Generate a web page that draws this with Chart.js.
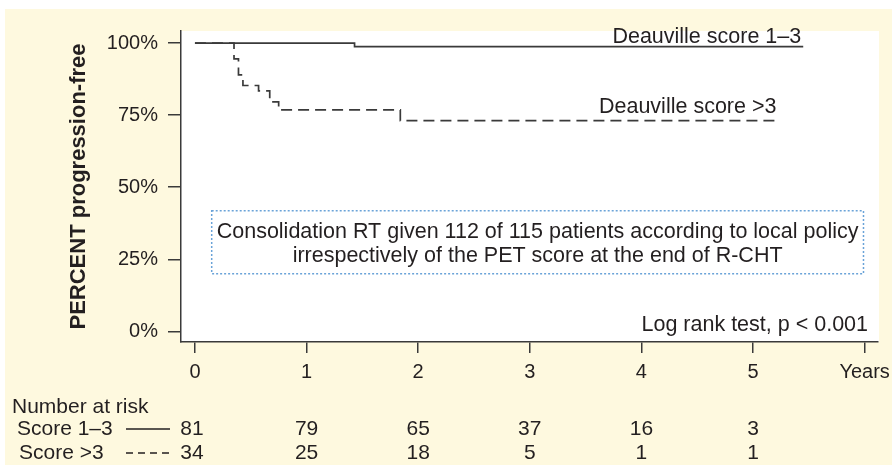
<!DOCTYPE html>
<html><head><meta charset="utf-8">
<script src="https://cdn.jsdelivr.net/npm/chart.js@4.4.1/dist/chart.umd.min.js"></script>
<style>
html,body{margin:0;padding:0;background:#fff;}
canvas{display:block;}
</style></head><body>
<canvas id="c" width="892" height="471"></canvas>
<script>
// ---- data ----
const xTickValues = [0, 1, 2, 3, 4, 5, 6];
const xTickLabels = ['0', '1', '2', '3', '4', '5', 'Years'];
const yTickValues = [0, 25, 50, 75, 100];
const score13Times = [0, 1.43, 5.45];
const score13Surv = [100, 98.8, 98.8];
const score3Times = [0, 0.35, 0.39, 0.43, 0.57, 0.67, 0.75, 1.84, 5.21];
const score3Surv = [100, 94.5, 89.0, 85.3, 83.4, 79.6, 76.8, 73.1, 73.1];
const riskYears = [0, 1, 2, 3, 4, 5];
const riskScore13 = [81, 79, 65, 37, 16, 3];
const riskScore3 = [34, 25, 18, 5, 1, 1];
const seriesNames = ['Deauville score 1\u20133', 'Deauville score >3'];
const riskRowNames = ['Score 1\u20133', 'Score >3'];
const riskTitle = 'Number at risk';
const yTitle = 'PERCENT progression-free';
const statText = 'Log rank test, p < 0.001';
const noteLines = ['Consolidation RT given 112 of 115 patients according to local policy',
                   'irrespectively of the PET score at the end of R-CHT'];

const FONT = "'Liberation Sans', Arial, Helvetica, sans-serif";
const INK = '#231f20';
const LINE = '#3a3a3a';
const CREAM = '#fef9df';

function pts(xs, ys) { return xs.map((x, i) => ({x: x, y: ys[i]})); }

const decor = {
  id: 'decor',
  beforeDraw(chart) {
    const {ctx, chartArea: a} = chart;
    ctx.save();
    ctx.fillStyle = '#ffffff';
    ctx.fillRect(0, 0, chart.width, chart.height);
    ctx.fillStyle = CREAM;
    ctx.fillRect(5, 9, chart.width - 5, 456);
    ctx.fillStyle = '#ffffff';
    ctx.fillRect(a.left, a.top, a.right - a.left + 1, a.bottom - a.top);
    ctx.restore();
  },
  afterDatasetsDraw(chart) {
    const {ctx, chartArea: a} = chart;
    const xs = chart.scales.x, ys = chart.scales.y;
    ctx.save();
    ctx.fillStyle = INK;
    ctx.font = '21.5px ' + FONT;
    // series labels
    ctx.textAlign = 'right';
    ctx.textBaseline = 'alphabetic';
    const n1 = score13Times.length - 1, n2 = score3Times.length - 1;
    ctx.fillText(seriesNames[0], xs.getPixelForValue(score13Times[n1]) - 2, ys.getPixelForValue(score13Surv[n1]) - 4);
    ctx.fillText(seriesNames[1], xs.getPixelForValue(score3Times[n2]), ys.getPixelForValue(score3Surv[n2]) - 8);
    // log rank
    ctx.fillText(statText, a.right - 10, a.bottom - 11);
    // note box
    const bx0 = xs.getPixelForValue(0.15), bx1 = xs.getPixelForValue(5.99);
    const by0 = ys.getPixelForValue(41.8), by1 = ys.getPixelForValue(20.0);
    ctx.save();
    ctx.strokeStyle = '#6aa3d8';
    ctx.lineWidth = 1.5;
    ctx.setLineDash([2, 2]);
    ctx.strokeRect(bx0, by0, bx1 - bx0, by1 - by0);
    ctx.restore();
    ctx.textAlign = 'center';
    ctx.textBaseline = 'middle';
    const cx = (bx0 + bx1) / 2;
    ctx.fillText(noteLines[0], cx, by0 + 21);
    ctx.fillText(noteLines[1], cx, by0 + 45);
    // number at risk table
    ctx.font = '21px ' + FONT;
    const rowY0 = 407, rowY1 = 429, rowY2 = 453;
    ctx.textAlign = 'left';
    ctx.fillText(riskTitle, 12, rowY0);
    ctx.fillText(riskRowNames[0], 17, rowY1);
    ctx.fillText(riskRowNames[1], 19, rowY2);
    ctx.save();
    ctx.strokeStyle = INK; ctx.lineWidth = 1.3;
    ctx.beginPath(); ctx.moveTo(126, rowY1); ctx.lineTo(170, rowY1); ctx.stroke();
    ctx.setLineDash([7, 5]);
    ctx.beginPath(); ctx.moveTo(126, rowY2); ctx.lineTo(170, rowY2); ctx.stroke();
    ctx.restore();
    ctx.textAlign = 'center';
    riskYears.forEach((yr, i) => {
      const px = xs.getPixelForValue(yr) - (yr === 0 ? 3 : 0);
      ctx.fillText(String(riskScore13[i]), px, rowY1);
      ctx.fillText(String(riskScore3[i]), px, rowY2);
    });
    ctx.restore();
  }
};

new Chart(document.getElementById('c'), {
  type: 'line',
  data: {
    datasets: [
      { label: seriesNames[0], data: pts(score13Times, score13Surv), stepped: 'before',
        borderColor: LINE, borderWidth: 1.7, pointRadius: 0, fill: false },
      { label: seriesNames[1], data: pts(score3Times, score3Surv), stepped: 'before',
        borderColor: LINE, borderWidth: 1.7, borderDash: [11, 6], pointRadius: 0, fill: false }
    ]
  },
  options: {
    responsive: false, animation: false, devicePixelRatio: 1,
    layout: { padding: { left: 0, top: 31, right: 14, bottom: 0 } },
    plugins: { legend: { display: false }, tooltip: { enabled: false } },
    scales: {
      x: {
        type: 'linear', position: 'bottom', min: -0.125, max: 6.12,
        afterBuildTicks: s => { s.ticks = xTickValues.map(v => ({ value: v })); },
        afterFit: s => { s.height = 129; s.paddingLeft = 0; s.paddingRight = 0; },
        grid: { drawOnChartArea: false, drawTicks: true, tickLength: 11, tickColor: LINE, lineWidth: 1.5 },
        border: { display: true, color: LINE, width: 1.5 },
        ticks: { color: INK, font: { size: 20, family: FONT }, padding: 7, maxRotation: 0, autoSkip: false,
                 callback: (v, i) => xTickLabels[i] }
      },
      y: {
        type: 'linear', position: 'left', min: -3.7, max: 104.2,
        afterBuildTicks: s => { s.ticks = yTickValues.map(v => ({ value: v })); },
        afterFit: s => { s.width = 181; s.paddingTop = 0; s.paddingBottom = 0; },
        grid: { drawOnChartArea: false, drawTicks: true, tickLength: 13, tickColor: LINE, lineWidth: 1.5 },
        border: { display: true, color: LINE, width: 1.5 },
        ticks: { color: INK, font: { size: 20, family: FONT }, padding: 10,
                 callback: v => v + '%' },
        title: { display: true, text: yTitle, color: INK,
                 font: { size: 22, weight: 'bold', family: FONT }, padding: { top: 66 } }
      }
    }
  },
  plugins: [decor]
});
</script>
</body></html>
